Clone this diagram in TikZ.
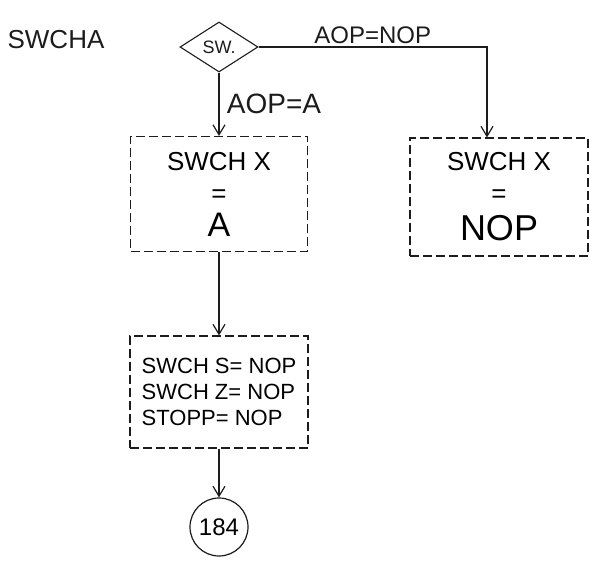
\documentclass[tikz,border=0pt]{standalone}
\usepackage{fontspec}
\setmainfont{Liberation Sans}
\usetikzlibrary{shapes.geometric,arrows.meta,positioning}
\definecolor{ink}{HTML}{1C1C1C}

\begin{document}
\begin{tikzpicture}[x=1pt,y=-1pt,
    inkline/.style={draw=ink, line width=1.2pt},
    flow/.style={inkline, -{Straight Barb[length=10pt,width=12pt]}},
    boxnode/.style={draw=ink, line width=1.1pt,
          dash pattern=on 9pt off 4pt,
          align=center, inner sep=6pt,
          font=\fontsize{26}{30}\selectfont},
    lbl/.style={text=ink, font=\fontsize{28}{32}\selectfont}
  ]
    \useasboundingbox (0,0) rectangle (605,561);

    \node[lbl, font=\fontsize{26}{30}\selectfont] (title) at (56,40) {SWCHA};

    \node[diamond, draw=ink, line width=1.1pt,
          minimum width=78pt, minimum height=50pt,
          inner sep=0pt, text=ink,
          font=\fontsize{18}{20}\selectfont] (sw) at (219,47) {SW.};

    \node[boxnode, minimum width=177pt, minimum height=115pt] (swchxa) at (219,194) {
      SWCH X\\[2pt]
      =\\[4pt]
      {\fontsize{34}{36}\selectfont A}
    };

    \node[boxnode, minimum width=178pt, minimum height=118pt] (swchxn) at (499,197) {
      SWCH X\\[2pt]
      =\\[8pt]
      {\fontsize{36}{38}\selectfont NOP}
    };

    \node[boxnode, align=left, minimum width=178pt, minimum height=112pt,
          font=\fontsize{22}{26}\selectfont] (stops) at (219,392) {
      SWCH S= NOP\\
      SWCH Z= NOP\\
      STOPP= NOP
    };

    \node[circle, draw=ink, line width=1.2pt, minimum size=58pt,
          inner sep=0pt, font=\fontsize{24}{26}\selectfont] (goto) at (219,527) {184};

    % branches out of the switch test
    \draw[flow] (sw.south) -- (swchxa.north)
      node[midway, right=4pt, lbl] {AOP=A};
    \draw[flow] (sw.east) -| ([xshift=-12pt]swchxn.north)
      node[pos=0.25, above=-1pt, lbl, font=\fontsize{24}{28}\selectfont] {AOP=NOP};

    \draw[flow] (swchxa.south) -- (stops.north);
    \draw[flow] (stops.south) -- (goto.north);
\end{tikzpicture}
\end{document}
